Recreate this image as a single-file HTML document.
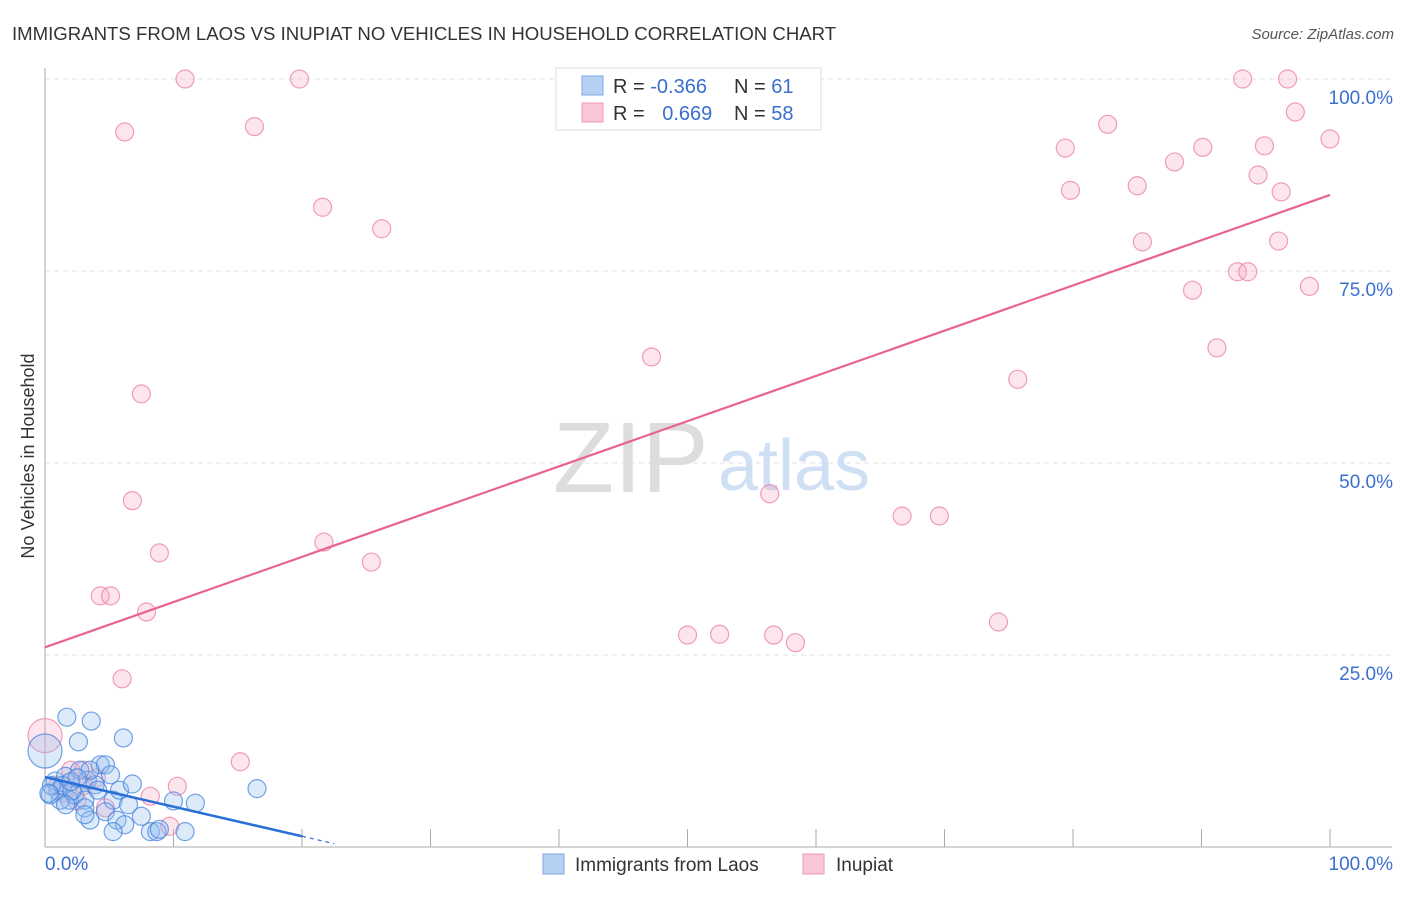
<!DOCTYPE html>
<html><head><meta charset="utf-8"><style>
body{margin:0;background:#fff;font-family:"Liberation Sans",sans-serif;}
svg text{font-family:"Liberation Sans",sans-serif;}
</style></head><body>
<svg id="chart" width="1406" height="892">
<text x="12" y="40" font-size="18.6" fill="#333">IMMIGRANTS FROM LAOS VS INUPIAT NO VEHICLES IN HOUSEHOLD CORRELATION CHART</text>
<text x="1394" y="39" font-size="15" fill="#555" font-style="italic" text-anchor="end">Source: ZipAtlas.com</text>
<text transform="translate(34,456) rotate(-90)" font-size="18" fill="#333" text-anchor="middle">No Vehicles in Household</text>
<g id="grid"></g>
<text x="553" y="492" font-size="100" fill="#ddd" font-family="Liberation Serif">ZIP</text>
<text x="718" y="490" font-size="72" fill="#cfe0f5">atlas</text>
<g id="marks"></g>
<g>
<rect x="556" y="68" width="265" height="62" fill="#fff" stroke="#ddd"/>
<rect x="582" y="76" width="21" height="19" fill="#b6d0f3" stroke="#7aa8e6"/>
<rect x="582" y="103" width="21" height="19" fill="#f9c6d5" stroke="#ee9ab3"/>
<text x="613" y="93" font-size="20" fill="#333">R = <tspan fill="#3a6fd0">-0.366</tspan></text>
<text x="734" y="93" font-size="20" fill="#333">N = <tspan fill="#3a6fd0"> 61</tspan></text>
<text x="613" y="120" font-size="20" fill="#333">R = <tspan fill="#3a6fd0" dx="12">0.669</tspan></text>
<text x="734" y="120" font-size="20" fill="#333">N = <tspan fill="#3a6fd0">58</tspan></text>
</g>
<g>
<rect x="543" y="854" width="21" height="20" fill="#b6d0f3" stroke="#7aa8e6"/>
<text x="575" y="871" font-size="19" fill="#333">Immigrants from Laos</text>
<rect x="803" y="854" width="21" height="20" fill="#f9c6d5" stroke="#ee9ab3"/>
<text x="836" y="871" font-size="19" fill="#333">Inupiat</text>
</g>
</svg>
<script>
const xTicks=[0,10,20,30,40,50,60,70,80,90,100];
const yTicks=[25,50,75,100];
const yTickLabels=["25.0%","50.0%","75.0%","100.0%"];
const pinkX=[10.9,19.8,6.2,16.3,21.6,26.2,7.5,6.8,8.9,21.7,25.4,4.3,5.1,7.9,6.0,15.2,10.3,8.2,9.7,4.7,47.2,56.4,66.7,69.6,50.0,52.5,56.7,58.4,74.2,75.7,79.4,79.8,82.7,85.0,85.4,87.9,89.3,90.1,91.2,92.8,93.6,93.2,96.7,97.3,94.4,94.9,96.2,96.0,98.4,100,2,3,1.5,4,3,2.5,1,0];
const pinkY=[100,100,93.1,93.8,83.3,80.5,59.0,45.1,38.3,39.7,37.1,32.7,32.7,30.6,21.9,11.1,7.9,6.6,2.7,5.1,63.8,46.0,43.1,43.1,27.6,27.7,27.6,26.6,29.3,60.9,91.0,85.5,94.1,86.1,78.8,89.2,72.5,91.1,65.0,74.9,74.9,100,100,95.7,87.5,91.3,85.3,78.9,73.0,92.2,10,10,7,9,8,6,8,14.5];
const blueX=[1.7,3.6,2.6,6.1,0,0.8,1.0,1.6,1.9,2.7,3.3,3.9,4.3,4.7,5.1,4.1,1.2,0.4,2.3,3.1,5.3,5.8,6.8,3.1,3.5,4.7,5.6,6.2,8.2,8.7,8.9,10.9,5.3,10.0,11.7,16.5,0.5,1.4,2.1,3.5,1.6,3.1,2.0,2.5,0.3,6.5,7.5];
const blueY=[16.9,16.4,13.7,14.2,12.5,8.6,7.3,9.2,6.1,10.0,8.7,8.1,10.7,10.7,9.4,7.4,6.1,6.8,6.8,6.1,6.1,7.4,8.2,5.1,3.5,4.6,3.5,2.9,2.0,2.0,2.3,2.0,2.0,6.0,5.7,7.6,8.0,8.0,7.3,10.0,5.5,4.2,8.5,9.0,7.0,5.5,4.0];
const pinkTrend=[26.0,84.9];
const blueTrend=[9.1,1.4];
const sx=v=>45+v*12.85, sy=v=>847-v*7.68;
const NS="http://www.w3.org/2000/svg";
function mk(t,a,p){const e=document.createElementNS(NS,t);for(const k in a)e.setAttribute(k,a[k]);p.appendChild(e);return e;}
const g=document.getElementById('grid'), m=document.getElementById('marks'), svg=document.getElementById('chart');
yTicks.forEach((t,i)=>{
 const l=mk('line',{x1:45,x2:1392,y1:sy(t),y2:sy(t),stroke:'#e2e2e2','stroke-dasharray':'5,4'},g);
 
 
 const tx=mk('text',{x:1393,y:sy(t)+25,'font-size':19,fill:'#3a6fd0','text-anchor':'end'},svg);
 tx.textContent=yTickLabels[i];
 
 
});
const ax=mk('line',{x1:45,x2:45,y1:68,y2:847,stroke:'#aaa'},g);


const bx=mk('line',{x1:45,x2:1392,y1:847,y2:847,stroke:'#aaa'},g);


xTicks.forEach(t=>{
 const l=mk('line',{x1:sx(t),x2:sx(t),y1:829,y2:847,stroke:'#aaa'},g);
 
 
});
[[0,'0.0%','start',45],[100,'100.0%','end',1393]].forEach(d=>{
 const tx=mk('text',{x:d[3],y:870,'font-size':19,fill:'#3a6fd0','text-anchor':d[2]},svg);
 tx.textContent=d[1];
 
 
});
pinkX.forEach((x,i)=>{
 const c=mk('circle',{cx:sx(x),cy:sy(pinkY[i]),r:i==pinkX.length-1?17:9,fill:'rgba(246,170,195,0.3)',stroke:'rgba(234,120,155,0.7)','stroke-width':1.2},m);
 
 
});
blueX.forEach((x,i)=>{
 const c=mk('circle',{cx:sx(x),cy:sy(blueY[i]),r:i==4?17:9,fill:'rgba(150,190,240,0.32)',stroke:'rgba(60,125,220,0.7)','stroke-width':1.2},m);
 
 
});
const pl=mk('line',{x1:sx(0),y1:sy(pinkTrend[0]),x2:sx(100),y2:sy(pinkTrend[1]),stroke:'#e8648e','stroke-width':2.2},m);


const bl=mk('line',{x1:sx(0),y1:sy(blueTrend[0]),x2:sx(20),y2:sy(blueTrend[1]),stroke:'#2a6fd6','stroke-width':2.5},m);


const slope=(blueTrend[1]-blueTrend[0])/20;
const bd=mk('line',{x1:sx(20),y1:sy(blueTrend[1]),x2:sx(22.5),y2:sy(blueTrend[1]+slope*2.5),stroke:'#2a6fd6','stroke-width':1.2,'stroke-dasharray':'4,4'},m);


</script>
</body></html>
